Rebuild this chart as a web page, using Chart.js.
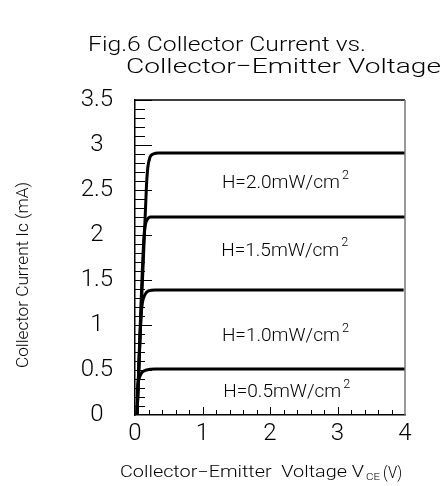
<!DOCTYPE html>
<html>
<head>
<meta charset="utf-8">
<script src="https://cdn.jsdelivr.net/npm/chart.js@4.4.1/dist/chart.umd.min.js"></script>
<style>
  html, body { margin: 0; padding: 0; background: #fff; }
</style>
</head>
<body>
<canvas id="chart" width="444" height="486"></canvas>
<script>
// curves: Vce (V) against Ic (mA)
const vce20 = [0.03, 0.17, 0.19, 0.22, 0.27, 0.35, 4.0]
const ic20 = [0, 2.55, 2.75, 2.86, 2.9, 2.91, 2.91]
const vce15 = [0.03, 0.13, 0.15, 0.18, 0.23, 0.3, 4.0]
const ic15 = [0, 1.95, 2.1, 2.17, 2.2, 2.2, 2.2]
const vce10 = [0.03, 0.09, 0.11, 0.15, 0.2, 0.3, 3.98]
const ic10 = [0, 1.1, 1.25, 1.34, 1.38, 1.39, 1.39]
const vce05 = [0.03, 0.04, 0.06, 0.1, 0.17, 0.3, 4.0]
const ic05 = [0, 0.3, 0.4, 0.47, 0.5, 0.51, 0.51]

const curveLabels = ['H=2.0mW/cm', 'H=1.5mW/cm', 'H=1.0mW/cm', 'H=0.5mW/cm']
const labelVce = [2.25, 2.24, 2.25, 2.27]
const labelIc = [2.57, 1.82, 0.87, 0.25]

const FONT = 'Roboto'

function toPoints(xs, ys) {
  return xs.map(function (x, i) { return { x: x, y: ys[i] } })
}

function curve(xs, ys) {
  return {
    data: toPoints(xs, ys),
    showLine: true,
    borderColor: '#000',
    borderWidth: 3,
    pointRadius: 0,
    cubicInterpolationMode: 'monotone',
    fill: false,
  }
}

// draw text left aligned and squeezed into a given width
function fitText(ctx, text, x, y, width, size) {
  ctx.save()
  ctx.font = '300 ' + size + 'px ' + FONT
  var w = ctx.measureText(text).width
  ctx.translate(x, y)
  ctx.scale(width / w, 1)
  ctx.fillText(text, 0, 0)
  ctx.restore()
}

const decorations = {
  id: 'decorations',
  afterDraw: function (chart) {
    var ctx = chart.ctx
    var xs = chart.scales.x
    var ys = chart.scales.y
    var a = chart.chartArea

    ctx.save()
    // frame
    ctx.strokeStyle = '#000'
    ctx.lineWidth = 1.5
    ctx.beginPath()
    ctx.moveTo(a.left, a.top)
    ctx.lineTo(a.right, a.top)
    ctx.stroke()
    ctx.strokeStyle = '#777'
    ctx.beginPath()
    ctx.moveTo(a.right, a.top)
    ctx.lineTo(a.right, a.bottom)
    ctx.stroke()

    // inner ticks
    ctx.strokeStyle = '#000'
    ctx.lineWidth = 1
    ctx.beginPath()
    for (var i = 1; i <= 35; i++) {
      var py = Math.round(ys.getPixelForValue(i / 10)) + 0.5
      var len = i % 5 === 0 ? 17 : 10
      ctx.moveTo(a.left, py)
      ctx.lineTo(a.left + len, py)
    }
    for (var j = 1; j < 20; j++) {
      var px = Math.round(xs.getPixelForValue(j / 5)) + 0.5
      var h = j % 5 === 0 ? 8 : 5
      ctx.moveTo(px, a.bottom)
      ctx.lineTo(px, a.bottom - h)
    }
    ctx.stroke()

    // curve labels
    ctx.fillStyle = '#000'
    ctx.textBaseline = 'middle'
    ctx.textAlign = 'left'
    for (var k = 0; k < curveLabels.length; k++) {
      var cx = xs.getPixelForValue(labelVce[k])
      var cy = ys.getPixelForValue(labelIc[k])
      fitText(ctx, curveLabels[k], cx - 65, cy, 118, 18)
      fitText(ctx, '2', cx + 55, cy - 8, 7, 12)
    }

    // titles
    ctx.textBaseline = 'alphabetic'
    fitText(ctx, 'Fig.6 Collector Current vs.', 88, 51, 278, 21)
    fitText(ctx, 'Collector\u2212Emitter Voltage', 126, 73, 315, 21)

    // x axis title
    fitText(ctx, 'Collector\u2212Emitter  Voltage V', 120, 477, 244, 16)
    fitText(ctx, 'CE', 366, 480, 14, 9)
    fitText(ctx, '(V)', 383, 478, 19, 17)

    // y axis title
    ctx.save()
    ctx.translate(28, 368)
    ctx.rotate(-Math.PI / 2)
    fitText(ctx, 'Collector Current Ic (mA)', 0, 0, 186, 16)
    ctx.restore()

    ctx.restore()
  },
}

const chart = new Chart(document.getElementById('chart'), {
  type: 'scatter',
  data: {
    datasets: [
      curve(vce20, ic20),
      curve(vce15, ic15),
      curve(vce10, ic10),
      curve(vce05, ic05),
    ],
  },
  options: {
    responsive: false,
    animation: false,
    devicePixelRatio: 1,
    layout: { padding: { left: 0, top: 100, right: 39, bottom: 0 } },
    plugins: {
      legend: { display: false },
      tooltip: { enabled: false },
    },
    scales: {
      x: {
        type: 'linear',
        min: 0,
        max: 4,
        grid: { display: false },
        border: { display: true, color: '#000', width: 1.5 },
        ticks: {
          stepSize: 1,
          color: '#000',
          padding: -3,
          font: { family: FONT, size: 24, weight: '300' },
        },
        afterFit: function (scale) { scale.height = 71 },
      },
      y: {
        type: 'linear',
        min: 0,
        max: 3.5,
        grid: { display: false },
        border: { display: true, color: '#000', width: 1.5 },
        ticks: {
          stepSize: 0.5,
          color: '#000',
          padding: 14,
          crossAlign: 'center',
          font: { family: FONT, size: 24, weight: '300' },
          callback: function (v) { return String(v) },
        },
        afterFit: function (scale) { scale.width = 135 },
      },
    },
  },
  plugins: [decorations],
})
</script>
</body>
</html>
